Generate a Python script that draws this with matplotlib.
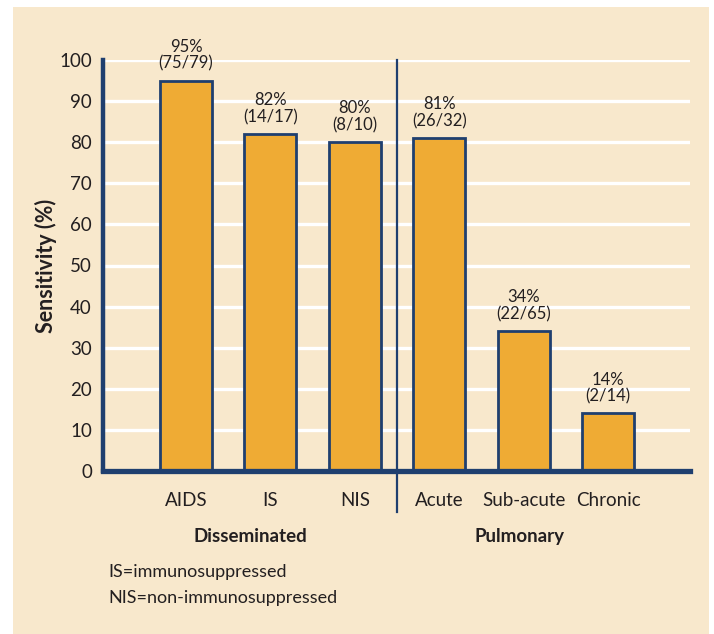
import matplotlib
matplotlib.use("Agg")
import matplotlib.pyplot as plt
from matplotlib.patches import Rectangle

plt.rcParams['font.family'] = ['Lato', 'DejaVu Sans']

categories = ['AIDS', 'IS', 'NIS', 'Acute', 'Sub-acute', 'Chronic']
sensitivity = [95, 82, 80, 81, 34, 14]
counts = ['75/79', '14/17', '8/10', '26/32', '22/65', '2/14']
groups = ['Disseminated', 'Pulmonary']
footnotes = ['IS=immunosuppressed', 'NIS=non-immunosuppressed']
yticks = list(range(0, 101, 10))

bar_color = '#EFAB34'
navy = '#1F3F6F'
text_color = '#231F20'
panel = '#F8E8CC'

fig = plt.figure(figsize=(7.14, 6.34), dpi=100, facecolor='white')
W, H = 714, 634

# cream panel behind everything
fig.patches.append(Rectangle((13 / W, 0), (709 - 13) / W, (634 - 7) / H,
                             transform=fig.transFigure, facecolor=panel,
                             edgecolor='none', zorder=-10))

ax = fig.add_axes([103 / W, 1 - 471 / H, (690 - 103) / W, (471 - 60) / H])
ax.set_facecolor('none')
ax.set_zorder(1)

x = list(range(len(categories)))
ax.bar(x, sensitivity, width=0.615, color=bar_color, edgecolor=navy,
       linewidth=2.0, zorder=3)

for xi, v, c in zip(x, sensitivity, counts):
    ax.text(xi, v + 2.2, f'{v}%\n({c})', ha='center', va='bottom',
            fontsize=12, color=text_color, linespacing=1.05, zorder=4)

ax.set_xlim(-0.983, 5.97)
ax.set_ylim(0, 100)
ax.set_yticks(yticks)
ax.set_yticklabels([str(t) for t in yticks], fontsize=13.5, color=text_color)
ax.tick_params(axis='y', length=0, pad=8)
ax.tick_params(axis='x', length=0, pad=15)
ax.set_xticks(x)
ax.set_xticklabels(categories, fontsize=13.5, color=text_color)

for t in yticks[1:]:
    ax.axhline(t, color='white', linewidth=2.4, zorder=1)

for side in ['top', 'right']:
    ax.spines[side].set_visible(False)
ax.spines['left'].set_color(navy)
ax.spines['left'].set_linewidth(3.2)
ax.spines['bottom'].set_color(navy)
ax.spines['bottom'].set_linewidth(3.8)
ax.spines['bottom'].set_zorder(5)
ax.spines['left'].set_zorder(5)

# divider between the two groups
ax.plot([2.5, 2.5], [100, -10], color=navy, linewidth=1.6, clip_on=False,
        zorder=5)

ax.set_ylabel('Sensitivity (%)', fontsize=15.5, fontweight='bold',
              color=text_color)
ax.yaxis.set_label_coords(-0.078, 0.5)

ax.text(0.76, -15.9, groups[0], ha='center', va='center', fontsize=13.5,
        fontweight='bold', color=text_color)
ax.text(3.95, -15.9, groups[1], ha='center', va='center', fontsize=13.5,
        fontweight='bold', color=text_color)

fig.text(108 / W, 1 - 572 / H, footnotes[0], ha='left', va='center',
         fontsize=13, color=text_color)
fig.text(108 / W, 1 - 598 / H, footnotes[1], ha='left', va='center',
         fontsize=13, color=text_color)

fig.savefig('out.png', dpi=100, facecolor='white')
